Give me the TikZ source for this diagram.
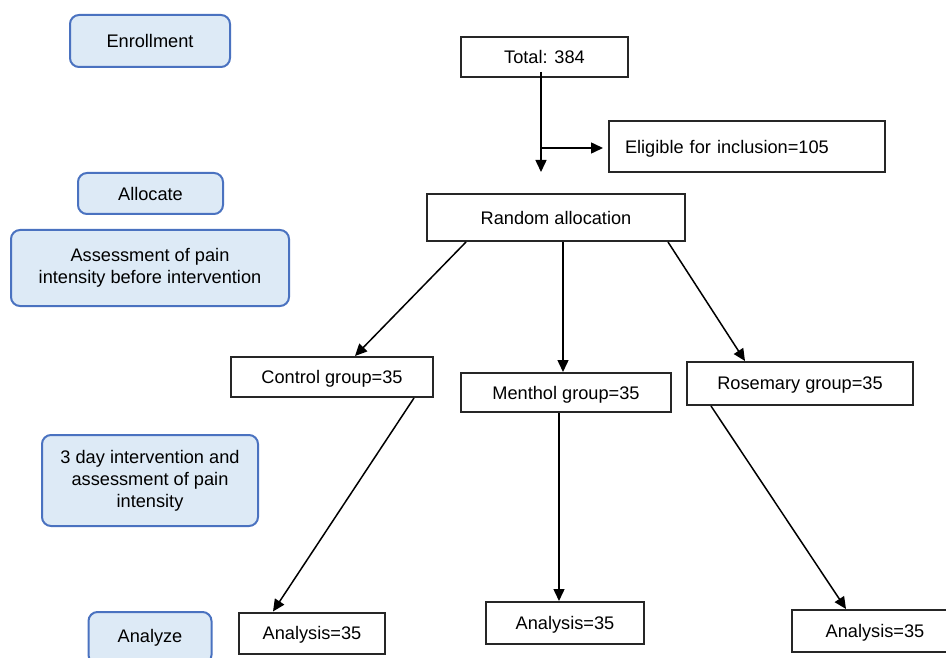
\documentclass[tikz,border=0pt]{standalone}
\usepackage{fontspec}
\setmainfont{Liberation Sans}
\usetikzlibrary{arrows.meta}

\definecolor{phaseblue}{HTML}{4A72C0}
\definecolor{phasefill}{HTML}{DDEAF6}

\begin{document}
\begin{tikzpicture}[
    x=1pt, y=-1pt,
    every node/.style={font=\fontsize{18.2}{22}\selectfont},
    % Stages on the left
    phase/.style={draw=phaseblue, fill=phasefill, line width=2pt,
        rounded corners=9pt, align=center, inner sep=0pt},
    % Boxes of the flow
    box/.style={draw=black!85, line width=2pt, inner sep=0pt, align=center, text depth=0pt},
    arr/.style={line width=1.5pt, -{Triangle[length=12pt,width=11pt]}}
]
\useasboundingbox (0,0) rectangle (946,658);
\clip (0,0) rectangle (946,658);

% Left column
\node[phase, minimum width=160pt, minimum height=52pt] (enroll) at (150,41) {Enrollment};
\node[phase, minimum width=145pt, minimum height=41pt] (alloc) at (150.5,193.5) {Allocate};
\node[phase, minimum width=278pt, minimum height=76pt] (assess) at (150,268)
    {Assessment of pain\\intensity before intervention};
\node[phase, minimum width=216pt, minimum height=91pt] (interv) at (150,480.5)
    {3 day intervention and\\assessment of pain\\intensity};
\node[phase, minimum width=123pt, minimum height=52pt] (analyze) at (150,638) {Analyze};

% Flow
\node[box, minimum width=167pt, minimum height=40pt] (total) at (544.5,57) {Total: 384};
\node[box, minimum height=51pt, text width=244pt, inner xsep=16pt, align=left] (elig)
    at (747,146.5) {Eligible for inclusion=105};
\node[box, minimum width=258pt, minimum height=47pt] (ralloc) at (556,217.5) {Random allocation};

\node[box, minimum width=202pt, minimum height=40pt] (ctrl) at (332,377) {Control group=35};
\node[box, minimum width=210pt, minimum height=39pt] (menth) at (566,392.5) {Menthol group=35};
\node[box, minimum width=226pt, minimum height=43pt] (rose) at (800,383.5) {Rosemary group=35};

\node[box, minimum width=146pt, minimum height=41pt] (an1) at (312,633) {Analysis=35};
\node[box, minimum width=158pt, minimum height=42pt] (an2) at (565,623) {Analysis=35};
\node[box, minimum width=166pt, minimum height=42pt] (an3) at (875,631) {Analysis=35};

% Connectors
\coordinate (split) at (541,148);
\coordinate (down) at (541,172);
\draw[line width=1.5pt] ([xshift=-3.5pt,yshift=6pt]total.south) -- (split);
\draw[arr] (split) -- (down);
\draw[arr] (split) -- ([xshift=-5pt]elig.west |- split);

\draw[arr] ([xshift=-90pt]ralloc.south) -- ([xshift=23pt]ctrl.north);
\draw[arr] ([xshift=7pt]ralloc.south) -- ([xshift=-3pt]menth.north);
\draw[arr] ([xshift=112pt]ralloc.south) -- ([xshift=-55pt]rose.north);

\draw[arr] ([xshift=82pt]ctrl.south) -- ([xshift=-39pt]an1.north);
\draw[arr] ([xshift=-7pt]menth.south) -- ([xshift=-6pt]an2.north);
\draw[arr] ([xshift=-89pt]rose.south) -- ([xshift=-29pt]an3.north);
\end{tikzpicture}
\end{document}
